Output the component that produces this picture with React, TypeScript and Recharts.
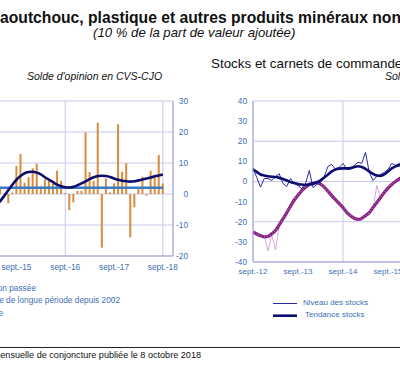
import { ComposedChart, Bar, Line, XAxis, YAxis, CartesianGrid } from 'recharts'

const FONT = '"Liberation Sans", Arial, sans-serif'
const TICK = '#3d6fb5'
const GRID = '#c8c8ee'
const AXIS = '#a2a2dc'

// Production passée, solde d'opinion CVS-CJO, mars 2015 -> nov. 2018 (monthly)
const prodBars = [
  1, 3, 2, 0.3, -3, 0.5,
  9.1, 12.9, 3.6, 5.4, 8.3, 9.8, 2.4, 4.7, 4.2, 3.4, 7.5, 4.2,
  0.3, -5.2, -2.7, 1, 1, 19.9, 7.1, 4.2, 23, -17.3, 5, 0.5,
  3.4, 22.5, 7.2, 9.9, -14, -4.3, 1.7, 5.6, -0.5, 7.5, 6.1, 12.6,
  3.4, null, null,
]
const prodTrend = [
  -5, -3.8, -2.3, -0.6, 1.2, 3.0,
  4.6, 5.8, 6.7, 7.1, 7.2, 6.9, 6.3, 5.4, 4.6, 3.8, 3.0, 2.5,
  2.2, 2.1, 2.3, 2.8, 3.4, 4.1, 4.8, 5.4, 5.8, 5.9, 5.8, 5.5,
  5.0, 4.6, 4.3, 4.1, 4.0, 4.1, 4.4, 4.7, 5.0, 5.3, 5.7, 6.0,
  6.3, null, null,
]
const longRunAverage = 2
const prodTicks = [6, 18, 30, 42]
const prodTickLabels = ['sept.-15', 'sept.-16', 'sept.-17', 'sept.-18']

// Stocks et carnets, sept. 2012 onwards (monthly)
const niveauStocks = [
  6.8, 2, -2.8, 1.5, 1.5, 0.5, 2.5, 3.8, -1, -2.5,
  1.5, -1, -2, -3.5, -1, 5.5, -3, -1.5, -0.5, 2.5,
  7.5, 8.5, 6, 7, 9, 6, 6, 8, 9.5, 9,
  14.5, 4.5, 0.5, 2.5, 3.5, 4.5, 6, 9, 8, 9,
  8.5, 7, 8,
]
const tendanceStocks = [
  6, 4.8, 3.5, 3, 2.6, 2.4, 2.2, 1.8, 1.2, 0.5,
  -0.3, -0.8, -1.2, -1.5, -1.6, -1.5, -1.1, -0.4, 0.6, 2,
  3.5, 5, 6, 6.4, 6.5, 6.5, 6.7, 7.2, 7.6, 7.2,
  6.3, 5, 3.8, 3, 2.8, 3.5, 5, 6.5, 7.5, 8.1,
  8.4, 8.5, 8.5,
]
const carnets = [
  -26, -27, -26, -27, -34.5, -26.5, -34, -22, -19, -16,
  -12, -10, -7, -5, -3, -1, -0.5, -1, -0.5, -3,
  -5.5, -8, -9.5, -11, -13.5, -15.5, -17.5, -19.5, -19, -19.5,
  -16, -15, -14, -2, -8, -6, -3, -1, 0, 1.5,
  2, 3.5, 4,
]
const tendanceCarnets = [
  -25, -26, -27, -27.5, -27.3, -26, -24.3, -21.5, -18.6, -15.5,
  -12.3, -9.2, -6.8, -4.5, -2.8, -1.5, -0.9, -0.6, -1.3, -2.8,
  -4.8, -7, -9, -11, -13, -15.3, -17, -18.2, -18.8, -18.3,
  -17, -15.5, -13, -10.5, -8, -5.5, -3.3, -1.5, 0, 1.3,
  2.5, 3.5, 4.3,
]
const stockTicks = [0, 12, 24, 36, 48]
const stockTickLabels = ['sept.-12', 'sept.-13', 'sept.-14', 'sept.-15', 'sept.-16']

const prodData = prodBars.map((v, i) => ({
  i,
  solde: v,
  trend: prodTrend[i],
  avg: prodTrend[i] === null ? null : longRunAverage,
}))

const stockData = niveauStocks.map((v, m) => ({
  m,
  niveau: v,
  tendStocks: tendanceStocks[m],
  carnets: carnets[m],
  tendCarnets: tendanceCarnets[m],
}))

function Txt({ left, right, top, size, children, style }: any) {
  return (
    <div
      style={{
        position: 'absolute',
        left,
        right,
        top,
        fontSize: size,
        lineHeight: 1,
        whiteSpace: 'nowrap',
        ...style,
      }}
    >
      {children}
    </div>
  )
}

function RightTick(props: any) {
  return (
    <text x={props.x} y={props.y} dy={3} textAnchor="end" fill={TICK} fontSize={8.3} fontFamily={FONT}>
      {props.payload.value}
    </text>
  )
}

const titleStyle = { fontWeight: 'bold', color: '#111' }

export default function App() {
  return (
    <div
      style={{
        position: 'absolute',
        left: 0,
        top: 0,
        width: 400,
        height: 374,
        overflow: 'hidden',
        background: '#fff',
        fontFamily: FONT,
      }}
    >
      {/* title is cut at the left edge: first letter sits just off-canvas */}
      <Txt right={400} top={10.1} size={15.7} style={titleStyle}>
        C
      </Txt>
      <Txt left={0} top={10.1} size={15.7} style={titleStyle}>
        aoutchouc, plastique et autres produits minéraux non métalliques
      </Txt>
      <Txt left={93} top={25.7} size={13.2} style={{ fontStyle: 'italic', color: '#111' }}>
        (10 % de la part de valeur ajoutée)
      </Txt>
      <Txt left={27} top={71.1} size={10.5} style={{ fontStyle: 'italic', color: '#111' }}>
        Solde d'opinion en CVS-CJO
      </Txt>
      <Txt left={211} top={57.1} size={13.4} style={{ color: '#111' }}>
        Stocks et carnets de commandes
      </Txt>
      <Txt left={385} top={71.1} size={10.5} style={{ fontStyle: 'italic', color: '#111' }}>
        Solde d'opinion en CVS-CJO
      </Txt>

      <div style={{ position: 'absolute', left: -10, top: 91 }}>
        <ComposedChart width={213} height={190} data={prodData} margin={{ top: 10, right: 0, bottom: 0, left: 0 }}>
          <CartesianGrid stroke={GRID} strokeWidth={1} />
          <XAxis
            dataKey="i"
            type="number"
            domain={[-0.5, 44.5]}
            ticks={prodTicks}
            tickFormatter={(v: number) => prodTickLabels[prodTicks.indexOf(v)]}
            height={25}
            tickLine={false}
            axisLine={{ stroke: AXIS }}
            tick={{ fill: TICK, fontSize: 8.3, fontFamily: FONT }}
          />
          <YAxis
            orientation="right"
            width={30}
            domain={[-20, 30]}
            ticks={[-20, -10, 0, 10, 20, 30]}
            tickLine={false}
            tickSize={0}
            tickMargin={15}
            axisLine={{ stroke: AXIS }}
            tick={RightTick}
          />
          <Bar dataKey="solde" fill="#d98b3d" barSize={2} isAnimationActive={false} />
          <Line dataKey="avg" stroke="#3a7cc2" strokeWidth={2.5} dot={false} isAnimationActive={false} />
          <Line
            dataKey="trend"
            type="monotone"
            stroke="#0d0d6e"
            strokeWidth={2.6}
            dot={false}
            isAnimationActive={false}
          />
        </ComposedChart>
      </div>

      <div style={{ position: 'absolute', left: 213, top: 91 }}>
        <ComposedChart width={265} height={193} data={stockData} margin={{ top: 10, right: 0, bottom: 0, left: 0 }}>
          <CartesianGrid stroke={GRID} strokeWidth={1} />
          <XAxis
            dataKey="m"
            type="number"
            domain={[0, 60]}
            ticks={stockTicks}
            tickFormatter={(v: number) => stockTickLabels[stockTicks.indexOf(v)]}
            height={22}
            tickLine={false}
            tickSize={4}
            axisLine={{ stroke: AXIS }}
            tick={{ fill: TICK, fontSize: 8, fontFamily: FONT }}
          />
          <YAxis
            width={40}
            domain={[-40, 40]}
            ticks={[-40, -30, -20, -10, 0, 10, 20, 30, 40]}
            tickLine={false}
            tickSize={4}
            axisLine={{ stroke: AXIS }}
            tick={{ fill: TICK, fontSize: 8.3, fontFamily: FONT }}
          />
          <Line dataKey="carnets" stroke="#dca6e4" strokeWidth={1} dot={false} isAnimationActive={false} />
          <Line dataKey="tendCarnets" type="monotone" stroke="#84207f" strokeWidth={3.2} dot={false} isAnimationActive={false} />
          <Line
            dataKey="tendCarnets"
            type="monotone"
            stroke="#c070c0"
            strokeWidth={1.2}
            strokeDasharray="1 2"
            dot={false}
            isAnimationActive={false}
          />
          <Line dataKey="niveau" stroke="#2a2aa8" strokeWidth={1} dot={false} isAnimationActive={false} />
          <Line dataKey="tendStocks" type="monotone" stroke="#0d0d70" strokeWidth={2.6} dot={false} isAnimationActive={false} />
        </ComposedChart>
      </div>

      <Txt right={400 - 36} top={283.5} size={8.3} style={{ color: TICK }}>
        Production passée
      </Txt>
      <Txt right={400 - 120} top={296.2} size={8.3} style={{ color: TICK }}>
        Moyenne de longue période depuis 2002
      </Txt>
      <Txt right={400 - 3} top={308.5} size={8.3} style={{ color: TICK }}>
        Tendance
      </Txt>

      <svg style={{ position: 'absolute', left: 0, top: 0 }} width={400} height={374}>
        <line x1={273} x2={297} y1={303.5} y2={303.5} stroke="#2a2aa8" strokeWidth={1} />
        <line x1={273} x2={297} y1={315.7} y2={315.7} stroke="#0d0d70" strokeWidth={2.6} />
        <line x1={0} x2={400} y1={347.5} y2={347.5} stroke="#222" strokeWidth={1} />
      </svg>
      <Txt left={303} top={299.3} size={8} style={{ color: TICK }}>
        Niveau des stocks
      </Txt>
      <Txt left={305} top={311.3} size={8} style={{ color: TICK }}>
        Tendance stocks
      </Txt>

      <Txt right={400 - 201} top={350.8} size={9.1} style={{ color: '#111' }}>
        Enquête mensuelle de conjoncture publiée le 8 octobre 2018
      </Txt>
    </div>
  )
}
